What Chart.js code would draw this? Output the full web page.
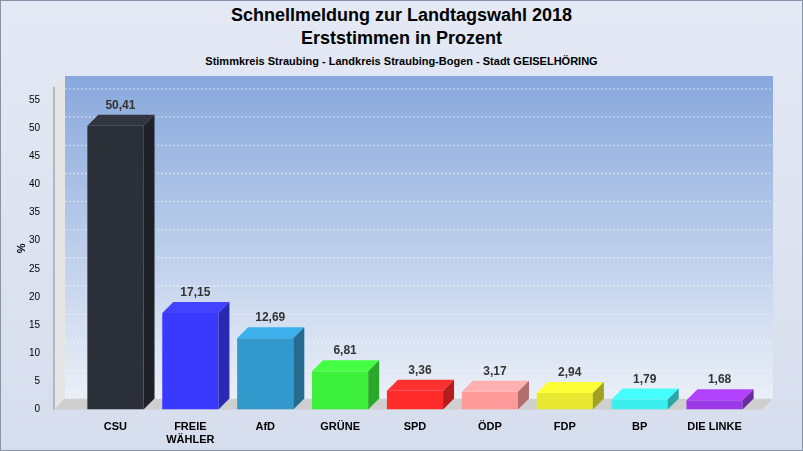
<!DOCTYPE html>
<html><head><meta charset="utf-8">
<script src="https://cdn.jsdelivr.net/npm/chart.js@4"></script>
<style>
html,body{margin:0;padding:0;background:#dde3f1;}
#wrap{position:relative;width:801px;height:449px;border:1px solid #8a94a8;background:linear-gradient(#e4e9f4,#d6ddec);}
.t{position:absolute;left:0;width:801px;text-align:center;font-family:"Liberation Sans",Arial,sans-serif;font-weight:bold;color:#000;}
</style></head><body>
<div id="wrap">
<div class="t" style="top:4px;font-size:18px;">Schnellmeldung zur Landtagswahl 2018</div>
<div class="t" style="top:27px;font-size:18px;">Erststimmen in Prozent</div>
<div class="t" style="top:54px;font-size:11px;">Stimmkreis Straubing - Landkreis Straubing-Bogen - Stadt GEISELHÖRING</div>
<canvas id="c" style="position:absolute;left:0;top:50px;" width="801" height="399"></canvas>
</div>
<script>
const parties = ['CSU', ['FREIE', 'WÄHLER'], 'AfD', 'GRÜNE', 'SPD', 'ÖDP', 'FDP', 'BP', 'DIE LINKE'];
const votes = [50.41, 17.15, 12.69, 6.81, 3.36, 3.17, 2.94, 1.79, 1.68];
const colors = ['#2b2f38', '#3a3aff', '#3399cc', '#3cf03c', '#ff2a2a', '#ff9a9a', '#e8e830', '#3ceeee', '#9a3ae8'];
const D = 11;

function shade(hex, f) {
    const n = parseInt(hex.slice(1), 16);
    const r = Math.round(((n >> 16) & 255) * f), g = Math.round(((n >> 8) & 255) * f), b = Math.round((n & 255) * f);
    return `rgb(${Math.min(r,255)},${Math.min(g,255)},${Math.min(b,255)})`;
}

const threeD = {
    id: 'threeD',
    beforeDatasetsDraw(chart) {
        const { ctx, chartArea: a, scales: { y } } = chart;
        ctx.save();
        const left = a.left - 24;
        const top = y.getPixelForValue(57.3);
        // back wall gradient
        const g = ctx.createLinearGradient(0, top - D, 0, a.bottom);
        g.addColorStop(0, '#88a8dc');
        g.addColorStop(1, '#eef2f8');
        ctx.fillStyle = g;
        ctx.fillRect(left + D, top - D, a.right - left + 10, a.bottom - top);
        // left wall
        ctx.fillStyle = '#e6e6e6';
        ctx.beginPath();
        ctx.moveTo(left, top); ctx.lineTo(left + D, top - D);
        ctx.lineTo(left + D, a.bottom - D); ctx.lineTo(left, a.bottom);
        ctx.fill();
        ctx.strokeStyle = '#888';
        ctx.beginPath(); ctx.moveTo(left, top); ctx.lineTo(left, a.bottom); ctx.stroke();
        // floor
        ctx.fillStyle = '#cfcfcf';
        ctx.beginPath();
        ctx.moveTo(left, a.bottom); ctx.lineTo(left + D, a.bottom - D);
        ctx.lineTo(a.right + D + 10, a.bottom - D); ctx.lineTo(a.right + 10, a.bottom);
        ctx.fill();
        ctx.strokeStyle = 'rgba(255,255,255,0.6)';
        ctx.setLineDash([2, 2]);
        y.ticks.forEach(t => {
            const py = y.getPixelForValue(t.value) - D;
            ctx.beginPath(); ctx.moveTo(left + D, py); ctx.lineTo(a.right + D + 10, py); ctx.stroke();
        });
        ctx.restore();
    },
    afterDatasetsDraw(chart) {
        const { ctx } = chart;
        chart.getDatasetMeta(0).data.forEach((bar, i) => {
            const l = bar.x - bar.width / 2, r = bar.x + bar.width / 2, t = bar.y, b = bar.base;
            ctx.fillStyle = shade(colors[i], 1.15);
            ctx.beginPath();
            ctx.moveTo(l, t); ctx.lineTo(l + D, t - D); ctx.lineTo(r + D, t - D); ctx.lineTo(r, t);
            ctx.fill();
            ctx.fillStyle = shade(colors[i], 0.7);
            ctx.beginPath();
            ctx.moveTo(r, t); ctx.lineTo(r + D, t - D); ctx.lineTo(r + D, b - D); ctx.lineTo(r, b);
            ctx.fill();
            ctx.fillStyle = '#333';
            ctx.font = 'bold 12px "Liberation Sans", Arial';
            ctx.textAlign = 'center';
            ctx.fillText(votes[i].toFixed(2).replace('.', ','), bar.x + 5, t - D - 6);
        });
    }
};

new Chart(document.getElementById('c'), {
    type: 'bar',
    data: {
        labels: parties,
        datasets: [{ data: votes, backgroundColor: colors, categoryPercentage: 1, barPercentage: 0.75 }]
    },
    options: {
        responsive: false,
        animation: false,
        layout: { padding: { top: 0, right: 50, left: 10 } },
        plugins: { legend: { display: false }, tooltip: { enabled: false } },
        scales: {
            x: {
                grid: { display: false },
                border: { display: false },
                ticks: { color: '#000', font: { family: '"Liberation Sans", Arial', size: 11, weight: 'bold' }, maxRotation: 0 }
            },
            y: {
                min: 0, max: 57.3,
                afterBuildTicks: s => { s.ticks = [0,5,10,15,20,25,30,35,40,45,50,55].map(v => ({ value: v })); },
                afterFit: s => { s.width = 67; },
                grid: { display: false },
                border: { display: false },
                title: { display: true, text: '%', color: '#000', font: { size: 11, weight: 'bold' } },
                ticks: { color: '#000', padding: 30, font: { family: '"Liberation Sans", Arial', size: 10 } }
            }
        }
    },
    plugins: [threeD]
});
</script>
</body></html>
